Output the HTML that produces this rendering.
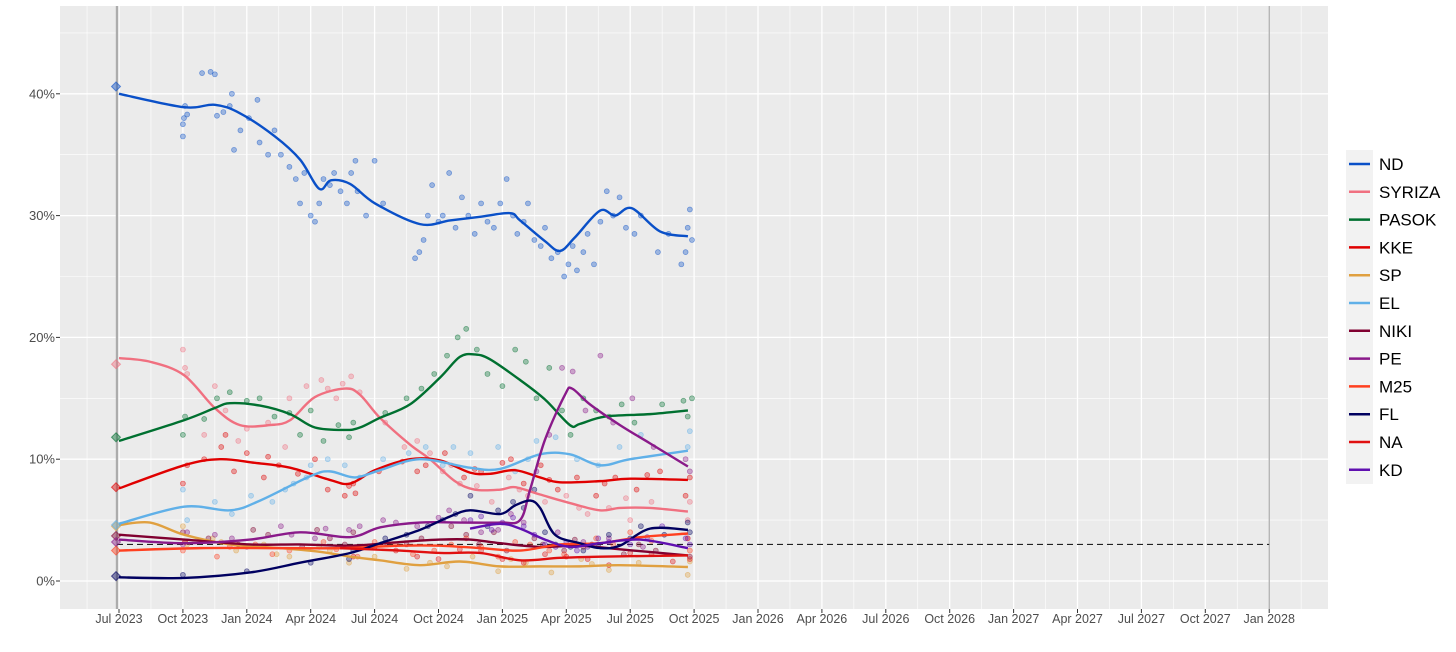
<!DOCTYPE html>
<html><head><meta charset="utf-8"><style>
body{margin:0;background:#fff;width:1456px;height:647px;overflow:hidden;font-family:"Liberation Sans",sans-serif}
</style></head><body>
<svg id="chart" width="1456" height="647" xmlns="http://www.w3.org/2000/svg" font-family="Liberation Sans, sans-serif"></svg>
<script>
// x = months since Jul 2023, y = percent
const xTickLabels=["Jul 2023","Oct 2023","Jan 2024","Apr 2024","Jul 2024","Oct 2024","Jan 2025","Apr 2025","Jul 2025","Oct 2025","Jan 2026","Apr 2026","Jul 2026","Oct 2026","Jan 2027","Apr 2027","Jul 2027","Oct 2027","Jan 2028"];
const yTicks=[0,10,20,30,40];
const parties=["ND","SYRIZA","PASOK","KKE","SP","EL","NIKI","PE","M25","FL","NA","KD"];
const colors=["#0a50c8","#f07080","#007030","#e00000","#e0a040","#60b0e8","#800030","#8a1a8a","#ff4020","#000060","#e01010","#6010b0"];
const threshold=3;
const election=[40.6,17.8,11.8,7.7,4.5,4.6,3.7,3.2,2.5,0.4,null,null];
const trendND=[[0,40],[3.05,38.9],[4.5,39.1],[5.68,38.4],[7.32,36.5],[8.5,34.6],[9.4,32.2],[9.95,32.9],[10.85,32.6],[12.02,31],[14.13,29.3],[15.54,29.6],[16.95,29.9],[18.36,30.2],[18.83,29.6],[20,27.9],[20.7,27.1],[21.4,28.2],[22.58,30.4],[23.29,30],[24.08,30.6],[25.4,28.7],[26.71,28.3]];
const trendSYRIZA=[[0,18.3],[1.46,18],[3.05,16.9],[4.5,14.2],[5.68,12.8],[7.09,12.8],[8.03,13.2],[9.2,15.1],[10.61,15.8],[11.31,15.3],[12.25,13.4],[13.66,11.2],[14.6,10],[15.77,8.2],[16.71,7.5],[17.89,7.5],[18.59,7.7],[19.77,7.1],[21.17,6.4],[22.58,5.8],[23.52,6],[24.93,6],[26.71,5.7]];
const trendPASOK=[[0,11.5],[3.05,13.2],[4.5,14.2],[5.21,14.6],[6.62,14.4],[8.03,13.7],[9.2,12.6],[10.61,12.4],[11.31,12.6],[12.25,13.4],[13.66,14.5],[15.07,16.7],[16,18.4],[16.71,18.6],[17.42,18.2],[18.83,16.5],[20,14.9],[21.17,12.8],[21.64,12.9],[22.82,13.5],[24.93,13.7],[26.71,14]];
const trendKKE=[[0,7.6],[3.05,9.5],[4.74,10],[6.38,9.7],[8.03,9.3],[9.9,8.3],[10.85,8],[12.02,9.1],[13.66,10],[15.07,9.9],[16.48,8.9],[17.42,8.8],[18.59,9.1],[19.77,8.5],[20.7,8.1],[22.58,8.2],[24,8.4],[26.71,8.3]];
const trendSP=[[0,4.6],[1.46,4.8],[3.05,3.8],[5.21,3],[7.56,2.7],[9.43,2.4],[10.85,2],[12.25,1.7],[14.13,1.3],[16,1.6],[17.89,1.2],[19.77,1.2],[21.64,1.2],[23.52,1.3],[26.71,1.15]];
const trendEL=[[0,4.7],[3.05,6.1],[5.21,5.8],[6.62,6.6],[8.97,8.6],[9.9,9],[11.08,8.5],[12.25,9.1],[14.13,10],[16.48,9.3],[17.89,9.2],[19.77,10.4],[21.17,10.4],[22.58,9.5],[24,10],[26.71,10.7]];
const trendNIKI=[[0,3.8],[3.05,3.4],[6.15,3],[8.5,3],[10.85,2.9],[13.19,3.2],[15.07,3.4],[16.48,3.4],[17.89,3.1],[19.77,2.8],[21.64,2.9],[23.52,2.6],[26.71,2.1]];
const trendPE=[[0,3.4],[3.05,3.1],[6.15,3.4],[8.5,4],[10.85,3.6],[12.25,4.4],[14.13,4.8],[16,4.8],[17.89,4.8],[18.83,5],[19.3,7.5],[20,11.6],[20.94,15.3],[21.27,15.8],[22.11,14.5],[23.52,12.8],[24.93,11.3],[26.71,9.4]];
const trendM25=[[0,2.5],[3.8,2.7],[7.56,2.7],[10.38,2.7],[13.19,2.9],[15.07,2.9],[16.95,2.7],[18.83,2.5],[20.7,3],[22.58,3.1],[24.46,3.6],[26.71,3.9]];
const trendFL=[[0,0.3],[3.05,0.25],[6.15,0.7],[8.5,1.5],[10.85,2.3],[12.25,3.1],[14.13,4.2],[15.54,5.3],[16.48,5.8],[17.89,5.5],[18.59,6.2],[19.3,6.6],[19.77,6],[20.47,3.8],[21.64,3.1],[22.58,2.7],[23.52,2.9],[24.93,4.3],[26.71,4.2]];
const trendNA=[[10.38,2.7],[13.19,2.5],[15.07,2.3],[16.95,2.3],[18.83,1.7],[20.7,1.9],[22.58,2],[26.71,2.1]];
const trendKD=[[16.48,4.3],[17.89,4.7],[18.83,4.3],[20,3.4],[21.17,2.8],[22.58,3.1],[24.46,3.4],[26.71,2.7]];
const trends=[trendND,trendSYRIZA,trendPASOK,trendKKE,trendSP,trendEL,trendNIKI,trendPE,trendM25,trendFL,trendNA,trendKD];
const pollsND=[[3,36.5],[3,37.5],[3.05,38],[3.1,39],[3.2,38.3],[3.9,41.7],[4.3,41.8],[4.5,41.6],[4.6,38.2],[4.9,38.5],[5.2,39],[5.3,40],[5.4,35.4],[5.7,37],[6.1,38],[6.5,39.5],[6.6,36],[7,35],[7.3,37],[7.6,35],[8,34],[8.3,33],[8.5,31],[8.7,33.5],[9,30],[9.2,29.5],[9.4,31],[9.6,33],[9.9,32.5],[10.1,33.5],[10.4,32],[10.7,31],[10.9,33.5],[11.1,34.5],[11.2,32],[11.6,30],[12,34.5],[12.4,31],[13.9,26.5],[14.1,27],[14.3,28],[14.5,30],[14.7,32.5],[15,29.5],[15.2,30],[15.5,33.5],[15.8,29],[16.1,31.5],[16.4,30],[16.7,28.5],[17,31],[17.3,29.5],[17.6,29],[17.9,31],[18.2,33],[18.5,30],[18.7,28.5],[19,29.5],[19.2,31],[19.5,28],[19.8,27.5],[20,29],[20.3,26.5],[20.6,27],[20.9,25],[21.1,26],[21.3,27.5],[21.5,25.5],[21.8,27],[22,28.5],[22.3,26],[22.6,29.5],[22.9,32],[23.2,30],[23.5,31.5],[23.8,29],[24.2,28.5],[24.5,30],[25.3,27],[25.8,28.5],[26.4,26],[26.6,27],[26.7,29],[26.8,30.5],[26.9,28]];
const pollsSYRIZA=[[3,19],[3.1,17.5],[3.2,17],[4.5,16],[5,14],[6,12.5],[7,13],[8,15],[8.8,16],[9.5,16.5],[10.2,15],[10.9,16.8],[11.3,15.5],[12.5,13],[14,11.5],[14.6,10.5],[15.2,9],[16,8],[16.8,7.8],[17.5,6.5],[18.3,8.5],[19.2,7],[20,6.5],[21,7],[22,5.5],[23,6],[24,5],[25,6.5],[26.7,5],[26.8,6.5],[4,12],[5.6,11.5],[7.8,11],[9.8,15.8],[10.5,16.2],[13.4,11],[15.6,9.5],[18.8,7.5],[21.6,6],[23.8,6.8]];
const pollsPASOK=[[3,12],[3.1,13.5],[4,13.3],[4.6,15],[5.2,15.5],[6,14.8],[6.6,15],[7.3,13.5],[8,13.8],[8.5,12],[9,14],[9.6,11.5],[10.3,12.8],[10.8,11.8],[11,13],[12.5,13.8],[13.5,15],[14.2,15.8],[14.8,17],[15.4,18.5],[15.9,20],[16.3,20.7],[16.8,19],[17.3,17],[18,16],[18.6,19],[19.1,18],[19.6,15],[20.2,17.5],[20.8,14],[21.2,12],[21.8,15],[22.4,14],[23,13.5],[23.6,14.5],[24.2,13],[25.5,14.5],[26.5,14.8],[26.7,13.5],[26.9,15]];
const pollsKKE=[[3,8],[3.2,9.5],[4,10],[4.8,11],[5.4,9],[6,10.5],[6.8,8.5],[7.5,9.5],[8.4,8.8],[9.2,10],[9.8,7.5],[10.6,7],[11,8],[12.2,9],[13.3,9.8],[14.4,9.5],[15.3,10.5],[16.2,8.5],[17,9],[18,9.7],[19,8],[19.8,9.5],[20.6,7.5],[21.5,8.5],[22.4,7],[23.3,8.5],[24.3,7.5],[25.4,9],[26.6,7],[26.8,8.5],[5,12],[7,10.2],[10.8,7.8],[11.1,7.2],[14,9],[16.7,9.2],[18.4,10],[20.2,8.3],[22.8,8],[24.8,8.7]];
const pollsSP=[[3,4.5],[3.2,3],[4.4,3.5],[5.5,2.5],[6.8,3],[8,2],[9.4,2.8],[10.8,1.5],[12,2],[13.5,1],[15.4,1.2],[16.6,2],[17.8,0.8],[19.1,1.5],[20.3,0.7],[21.7,1.8],[23,0.9],[24.4,1.5],[26.7,0.5],[26.8,1.6],[4.8,3.2],[7.4,2.2],[9.9,2.5],[14.6,1.5],[18.4,1.8],[22.2,1.4]];
const pollsEL=[[3,7.5],[3.2,5],[4.5,6.5],[5.3,5.5],[6.2,7],[7.2,6.5],[8.2,8],[9,9.5],[9.8,10],[10.6,9.5],[11.3,8.5],[12.4,10],[14.4,11],[15.2,9.5],[16.5,10.5],[17.8,11],[18.6,9],[19.6,11.5],[20.5,11.8],[21.5,10],[22.5,9.5],[23.5,11],[24.5,12],[26.7,11],[26.8,12.3],[7.8,7.5],[8.8,8.5],[13.6,10.5],[15.7,11],[19.2,10]];
const pollsNIKI=[[3,4],[4.2,3.5],[5.6,3],[7,3.8],[8.6,2.8],[9.9,3.5],[11,4],[12.6,3],[14.2,3.5],[15.6,4.5],[16.9,3],[18.2,2.5],[19.5,3.5],[20.9,2.5],[22.2,3],[23.7,2.2],[25.2,2.5],[26.8,2],[3.1,3.2],[6.3,4.2],[9.3,4.2],[10.6,3],[13.5,3],[16.3,3.8],[17.6,4],[19.9,3],[21.4,3.4],[24.4,3]];
const pollsPE=[[3,3],[4.5,3.8],[6,2.8],[7.6,4.5],[9.2,3.5],[10.8,4.2],[12.4,5],[14,4.5],[15.5,5.8],[17,4],[18.4,5.5],[19.6,9],[20.2,12],[20.8,17.5],[21.3,17.2],[21.9,14],[22.6,18.5],[23.2,13],[24.1,15],[25.1,11],[26.6,10],[26.8,9],[3.2,4],[5.3,3.5],[8.1,3.8],[9.7,4.3],[11.3,4.5],[13,4.8],[15,5.2],[16.2,5],[17.8,4.2],[19,4.8],[20.6,4],[21.8,3.2],[23,3.5],[24.6,2.8],[26.7,3.5]];
const pollsM25=[[3,2.5],[4.6,2],[6.4,3],[8,2.5],[9.6,3.2],[11.2,2],[13,3],[14.8,2.5],[16.3,3.5],[17.8,2],[19.3,3],[20.9,2.2],[22.4,3.5],[24,4],[26.7,3.5],[3.1,3.2],[5.2,2.8],[7.2,2.2],[10.2,2.6],[12,3.2],[13.8,2.2],[15.6,3],[17,2.8],[18.6,3.2],[20.2,2.5],[21.8,2.8],[23.2,3],[25,3.3],[26.8,2.5]];
const pollsFL=[[3,0.5],[6,0.8],[9,1.5],[11,2.5],[12.5,3.5],[14.5,4.5],[15.8,5.5],[16.5,7],[17.3,4.5],[18.5,6.5],[19.5,7.5],[20.5,3],[21.8,2.5],[23,3.8],[24.5,4.5],[26.7,4.8],[10.8,1.8],[13.5,3.8],[15.2,5],[17.8,5.8],[19,6],[20,4],[21.2,2.8],[22.5,3],[24,3.5],[25.6,3.8],[26.8,4]];
const pollsNA=[[11,2],[13,2.5],[15,1.8],[17,2.5],[19,1.5],[21,2],[23,1.3],[25,2.2],[26.8,1.8],[12,2.8],[14,2],[16,2.6],[18,1.8],[20,2.2],[22,1.8],[24,2.3],[26,1.6]];
const pollsKD=[[16.5,5],[17.5,4.2],[18.5,5.2],[19.5,3.8],[20.5,2.8],[21.5,2.5],[22.5,3.5],[24,3],[25.5,4.5],[26.8,3],[17,5.3],[18,4.8],[19,4.5],[20,3],[21,3.2],[22,2.8],[23,3.2],[24.8,3.6],[26.6,3.5]];
const polls=[pollsND,pollsSYRIZA,pollsPASOK,pollsKKE,pollsSP,pollsEL,pollsNIKI,pollsPE,pollsM25,pollsFL,pollsNA,pollsKD];

const NS="http://www.w3.org/2000/svg";
const svg=document.getElementById('chart');
const PL=60,PR=1328,PT=6,PB=609;
const xS=t=>119+t*21.3;
const yS=v=>581-v*12.18;
function mk(tag,at,parent){const e=document.createElementNS(NS,tag);for(const k in at)e.setAttribute(k,at[k]);(parent||svg).appendChild(e);return e;}
const bg=mk('rect',{x:PL,y:PT,width:PR-PL,height:PB-PT,fill:'#ebebeb'});


const grid=mk('g',{});


for(let v=-0;v<=45;v+=5){const y=yS(v);mk('line',{x1:PL,x2:PR,y1:y,y2:y,stroke:'#fff','stroke-width':v%10==0?1.3:0.6},grid);}
for(let i=-1;i<xTickLabels.length*2;i++){const x=xS(i*1.5);if(x<PL||x>PR)continue;mk('line',{x1:x,x2:x,y1:PT,y2:PB,stroke:'#fff','stroke-width':i%2==0?1.3:0.6},grid);}
yTicks.forEach(v=>{const t=mk('text',{x:55,y:yS(v)+4.5,'text-anchor':'end','font-size':13,fill:'#4d4d4d'});t.textContent=v+'%';


mk('line',{x1:56,x2:60,y1:yS(v),y2:yS(v),stroke:'#333'});});
xTickLabels.forEach((l,i)=>{const x=xS(i*3);const t=mk('text',{x:x,y:623,'text-anchor':'middle','font-size':12.5,fill:'#4d4d4d'});t.textContent=l;


mk('line',{x1:x,x2:x,y1:609,y2:613,stroke:'#333'});});
mk('line',{x1:117,x2:117,y1:PT,y2:PB,stroke:'#bbb','stroke-width':2.5});
mk('line',{x1:117,x2:117,y1:PT,y2:PB,stroke:'#888','stroke-width':0.6});
mk('line',{x1:xS(54),x2:xS(54),y1:PT,y2:PB,stroke:'#999','stroke-width':1});
const th=mk('line',{x1:117,x2:xS(54),y1:yS(threshold),y2:yS(threshold),stroke:'#222','stroke-width':1.2,'stroke-dasharray':'6,4'});


function spline(pts){const p=pts.map(([t,v])=>[xS(t),yS(v)]);let d='M'+p[0][0]+','+p[0][1];
for(let i=0;i<p.length-1;i++){const p0=p[i-1]||p[i],p1=p[i],p2=p[i+1],p3=p[i+2]||p2;
const c1=[p1[0]+(p2[0]-p0[0])/6,p1[1]+(p2[1]-p0[1])/6],c2=[p2[0]-(p3[0]-p1[0])/6,p2[1]-(p3[1]-p1[1])/6];
d+=` C${c1[0]},${c1[1]} ${c2[0]},${c2[1]} ${p2[0]},${p2[1]}`;}return d;}
parties.forEach((p,i)=>{const g=mk('g',{});


polls[i].forEach(([t,v])=>{const c=mk('circle',{cx:xS(t),cy:yS(v),r:2.5,fill:colors[i],'fill-opacity':0.35,stroke:colors[i],'stroke-opacity':0.5,'stroke-width':0.7},g);

});});
parties.forEach((p,i)=>{const path=mk('path',{d:spline(trends[i]),fill:'none',stroke:colors[i],'stroke-width':2.4});


if(election[i]!=null){const x=116,y=yS(election[i]);const dm=mk('path',{d:`M${x},${y-4.5}L${x+4.5},${y}L${x},${y+4.5}L${x-4.5},${y}Z`,fill:colors[i],'fill-opacity':0.45,stroke:colors[i],'stroke-opacity':0.6});

}});
const lg=mk('g',{});


mk('rect',{x:1346,y:150,width:27,height:334,fill:'#f2f2f2'},lg);
parties.forEach((p,i)=>{const y=164+i*27.8;mk('line',{x1:1349,x2:1370,y1:y,y2:y,stroke:colors[i],'stroke-width':2.5},lg);
const t=mk('text',{x:1379,y:y+6,'font-size':17,fill:'#000'},lg);t.textContent=p;

});
</script>
</body></html>
